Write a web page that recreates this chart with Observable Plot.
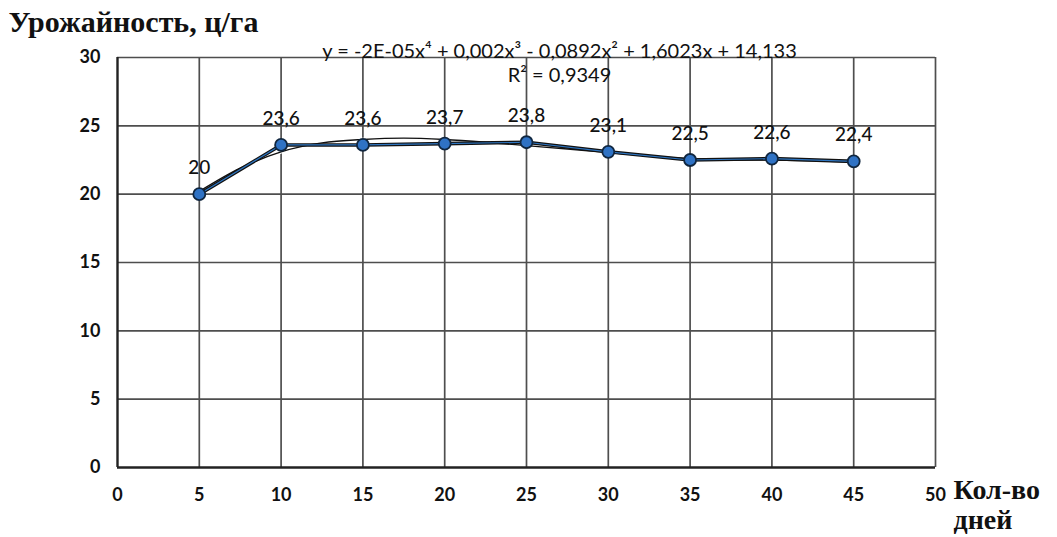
<!DOCTYPE html>
<html>
<head>
<meta charset="utf-8">
<script src="https://cdn.jsdelivr.net/npm/d3@7"></script>
<script src="https://cdn.jsdelivr.net/npm/@observablehq/plot@0.6"></script>
<style>
  html, body { margin: 0; padding: 0; background: #fff; }
  #chart { position: relative; width: 1057px; height: 537px; overflow: hidden; }
</style>
</head>
<body>
<div id="chart"></div>
<script>
// Yield (ц/га) by number of days
const days = [5, 10, 15, 20, 25, 30, 35, 40, 45];
const yieldValues = [20, 23.6, 23.6, 23.7, 23.8, 23.1, 22.5, 22.6, 22.4];
const yieldLabels = ["20", "23,6", "23,6", "23,7", "23,8", "23,1", "22,5", "22,6", "22,4"];

// Polynomial trend line, sampled along its drawn course
const trendDays = [5, 7.5, 10, 12.5, 15, 17.5, 20, 22.5, 25, 27.5, 30, 32.5, 35, 37.5, 40, 42.5, 45];
const trendValues = [20.2, 21.9, 23.1, 23.75, 24.0, 24.1, 24.0, 23.8, 23.55, 23.3, 23.05, 22.8, 22.6, 22.5, 22.5, 22.45, 22.35];

const xTicks = [0, 5, 10, 15, 20, 25, 30, 35, 40, 45, 50];
const yTicks = [0, 5, 10, 15, 20, 25, 30];

const yTitle = "Урожайность, ц/га";
const xTitle = ["Кол-во", "дней"];
const equation = "y = -2E-05x⁴ + 0,002x³ - 0,0892x² + 1,6023x + 14,133";
const rSquared = "R² = 0,9349";

const points = days.map((d, i) => ({ d, v: yieldValues[i], label: yieldLabels[i] }));
const trend = trendDays.map((d, i) => ({ d, v: trendValues[i] }));

const sans = "Lato, 'Open Sans', sans-serif";
const serif = "'Liberation Serif', 'DejaVu Serif', serif";
const gridColor = "#4e4e4e";

const chart = Plot.plot({
  width: 1057,
  height: 537,
  marginLeft: 117,
  marginRight: 122,
  marginTop: 57,
  marginBottom: 70,
  style: { fontFamily: sans, background: "#fff", overflow: "visible" },
  x: { domain: [0, 50], ticks: xTicks },
  y: { domain: [0, 30], ticks: yTicks },
  marks: [
    Plot.gridX(xTicks.filter(t => t > 0), { stroke: gridColor, strokeOpacity: 1, strokeWidth: 1.7 }),
    Plot.gridY(yTicks.filter(t => t > 0), { stroke: gridColor, strokeOpacity: 1, strokeWidth: 1.7 }),
    Plot.ruleX([0], { stroke: "#222", strokeWidth: 2.4 }),
    Plot.ruleY([0], { stroke: "#222", strokeWidth: 2.4 }),
    Plot.axisX({ ticks: xTicks, tickSize: 0, tickPadding: 21, fontSize: 18, fontWeight: "bold", fill: "#111", label: null }),
    Plot.axisY({ ticks: yTicks, tickSize: 0, tickPadding: 17, fontSize: 18, fontWeight: "bold", fill: "#111", label: null }),
    // trend line
    Plot.line(trend, { x: "d", y: "v", stroke: "#fff", strokeWidth: 3.5, curve: "catmull-rom" }),
    Plot.line(trend, { x: "d", y: "v", stroke: "#111", strokeWidth: 1.4, curve: "catmull-rom" }),
    // observed series
    Plot.line(points, { x: "d", y: "v", stroke: "#111", strokeWidth: 3.6 }),
    Plot.line(points, { x: "d", y: "v", stroke: "#2e75c0", strokeWidth: 1.2 }),
    Plot.dot(points, { x: "d", y: "v", r: 6, fill: "#2f72c4", stroke: "#10263f", strokeWidth: 1.8 }),
    Plot.text(points, { x: "d", y: "v", text: "label", dy: -26, fontSize: 19, fill: "#111", fontWeight: 500 }),
    // equation and R²
    Plot.text([equation], { frameAnchor: "top", dx: 33, dy: -14, fontSize: 20, fill: "#111", fontFamily: sans }),
    Plot.text([rSquared], { frameAnchor: "top", dx: 33, dy: 10, fontSize: 20, fill: "#111", fontFamily: sans }),
    // axis titles
    Plot.text([yTitle], { frameAnchor: "top-left", dx: -109, dy: -47, textAnchor: "start", fontSize: 30, fontWeight: "bold", fontFamily: serif, fill: "#111" }),
    Plot.text([xTitle.join("\n")], { frameAnchor: "bottom-right", dx: 18, dy: 61, textAnchor: "start", lineHeight: 1.05, fontSize: 28, fontWeight: "bold", fontFamily: serif, fill: "#111" })
  ]
});

document.getElementById("chart").appendChild(chart);
</script>
</body>
</html>
